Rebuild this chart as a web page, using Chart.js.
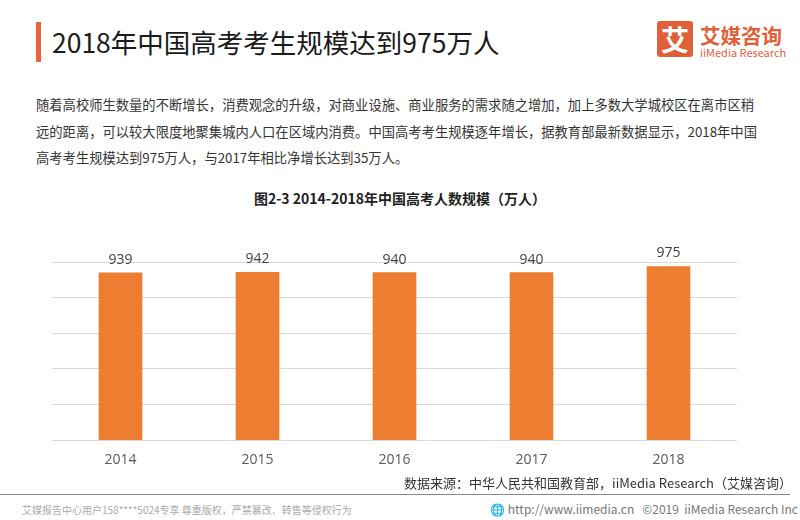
<!DOCTYPE html>
<html>
<head>
<meta charset="utf-8">
<script src="https://cdn.jsdelivr.net/npm/chart.js@4/dist/chart.umd.min.js"></script>
<style>
  body { margin: 0; width: 800px; height: 520px; background: #fff; position: relative; overflow: hidden;
         font-family: "Noto Sans CJK SC", "Noto Sans", sans-serif; color: #333; }
  .abs { position: absolute; white-space: nowrap; }
  #bar { left: 36px; top: 22px; width: 5px; height: 40px; background: #e8643c; }
  #title { left: 52px; top: 24px; font-size: 26.5px; line-height: 36px; color: #1a1a1a; }
  #logoBox { left: 657px; top: 21px; width: 36px; height: 36px; background: #e0603a; border-radius: 3px;
             color: #fff; font-size: 28px; line-height: 36px; text-align: center; font-weight: bold; }
  #logoCn { left: 700px; top: 22px; font-size: 20.5px; line-height: 26px; color: #e0603a; font-weight: bold; }
  #logoEn { left: 700px; top: 46px; font-size: 11px; line-height: 13px; color: #e0603a; }
  #para { left: 36px; top: 92px; font-size: 13.3px; line-height: 26.5px; color: #333; }
  #subtitle { left: 0; width: 800px; top: 188px; text-align: center; font-size: 14px; font-weight: bold; color: #222; }
  #source { right: 8px; top: 473px; font-size: 13px; color: #333; }
  #rule { left: 0; top: 494px; width: 790px; height: 1px; background: #888; }
  #footL { left: 22px; top: 502px; font-size: 10px; color: #aaa; }
  #footR { right: 2px; top: 500px; font-size: 12px; color: #777; }
  #wrap { left: 0; top: 215px; width: 800px; height: 264px; }
</style>
</head>
<body>
<div class="abs" id="bar"></div>
<div class="abs" id="title">2018年中国高考考生规模达到975万人</div>
<div class="abs" id="logoBox">艾</div>
<div class="abs" id="logoCn">艾媒咨询</div>
<div class="abs" id="logoEn">iiMedia Research</div>
<div class="abs" id="para">随着高校师生数量的不断增长，消费观念的升级，对商业设施、商业服务的需求随之增加，加上多数大学城校区在离市区稍<br>远的距离，可以较大限度地聚集城内人口在区域内消费。中国高考考生规模逐年增长，据教育部最新数据显示，2018年中国<br>高考考生规模达到975万人，与2017年相比净增长达到35万人。</div>
<div class="abs" id="subtitle">图2-3 2014-2018年中国高考人数规模（万人）</div>
<div class="abs" id="wrap"><canvas id="chart" width="800" height="264"></canvas></div>
<div class="abs" id="source">数据来源：中华人民共和国教育部，iiMedia Research（艾媒咨询）</div>
<div class="abs" id="rule"></div>
<div class="abs" id="footL">艾媒报告中心用户158****5024专享 尊重版权，严禁篡改、转售等侵权行为</div>
<div class="abs" id="footR">&#127760; http://www.iimedia.cn &nbsp;&nbsp;©2019 &nbsp;iiMedia Research Inc</div>
<script>
const years = ["2014", "2015", "2016", "2017", "2018"];
const examinees = [939, 942, 940, 940, 975];
const yTicks = [0, 200, 400, 600, 800, 1000];

// draw value labels above each bar
const barLabels = {
  id: "barLabels",
  afterDatasetsDraw(chart) {
    const c = chart.ctx;
    const meta = chart.getDatasetMeta(0);
    c.save();
    c.font = "14px 'Open Sans', 'Noto Sans', sans-serif";
    c.fillStyle = "#404040";
    c.textAlign = "center";
    c.textBaseline = "bottom";
    meta.data.forEach((bar, i) => {
      c.fillText(examinees[i], bar.x, bar.y - 6);
    });
    c.restore();
  },
};

new Chart(document.getElementById("chart"), {
  type: "bar",
  data: {
    labels: years,
    datasets: [{
      data: examinees,
      backgroundColor: "#ed7d31",
      barThickness: 43,
    }],
  },
  options: {
    responsive: false,
    animation: false,
    layout: { padding: { left: 52, right: 63, top: 47, bottom: 8 } },
    plugins: { legend: { display: false }, tooltip: { enabled: false } },
    scales: {
      x: {
        grid: { display: false },
        border: { display: false },
        ticks: { color: "#595959", font: { size: 14, family: "'Open Sans', 'Noto Sans', sans-serif" }, padding: 3 },
      },
      y: {
        min: 0,
        max: yTicks[yTicks.length - 1],
        afterBuildTicks: (axis) => { axis.ticks = yTicks.map((v) => ({ value: v })); },
        afterFit: (axis) => { axis.width = 0; },
        ticks: { display: false },
        border: { display: false },
        grid: { color: "#d9d9d9", drawTicks: false },
      },
    },
  },
  plugins: [barLabels],
});
</script>
</body>
</html>
